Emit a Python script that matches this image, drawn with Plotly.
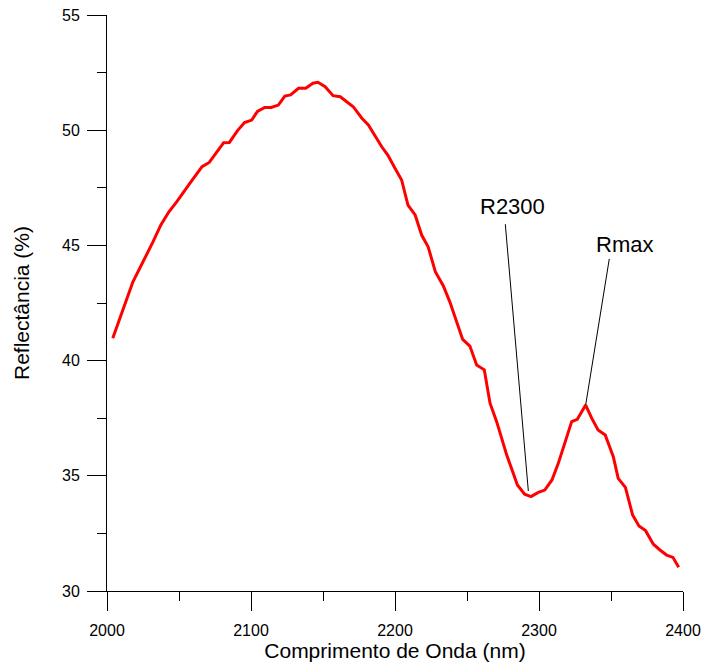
import plotly.graph_objects as go

# Spectrum data (wavelength in nm, reflectance in %)
wavelength = [2004, 2018, 2032, 2037.5, 2043, 2048.5, 2057, 2066, 2071, 2081, 2085,
              2090.5, 2095.5, 2100.5, 2104.5, 2109.5, 2114, 2119, 2123.5, 2127.5, 2133,
              2138, 2143, 2146.5, 2151.5, 2157, 2162, 2171, 2177, 2181.5, 2190.8, 2195,
              2200, 2204.6, 2209, 2214, 2218.5, 2223, 2228, 2233.5, 2238, 2247, 2252,
              2256.7, 2262, 2266, 2270.6, 2277.6, 2285, 2290, 2294.5, 2299.5, 2304, 2309,
              2313.4, 2318, 2322.7, 2326.6, 2332.4, 2336.6, 2341, 2346, 2351.6, 2355,
              2360, 2365, 2369.4, 2374, 2379.4, 2384, 2388.6, 2393, 2397]
reflectance = [40.97, 43.42, 45.16, 45.9, 46.46, 46.9, 47.65, 48.42, 48.6, 49.46, 49.47,
               49.97, 50.33, 50.44, 50.82, 50.99, 50.99, 51.09, 51.48, 51.53, 51.82,
               51.82, 52.04, 52.08, 51.89, 51.5, 51.45, 51.02, 50.52, 50.23, 49.28, 48.92,
               48.35, 47.84, 46.75, 46.32, 45.45, 44.94, 43.86, 43.25, 42.56, 40.92, 40.63,
               39.81, 39.6, 38.15, 37.35, 35.9, 34.6, 34.2, 34.1, 34.28, 34.38, 34.82,
               35.54, 36.41, 37.35, 37.45, 38.07, 37.5, 36.99, 36.77, 35.83, 34.89,
               34.5, 33.3, 32.82, 32.62, 32.03, 31.78, 31.56, 31.46, 31.03]

# Annotation labels and leader lines
label_text = ["R2300", "Rmax"]
label_x = [2281.3, 2359.7]
label_y = [46.71, 45.06]
leader_x0 = [2276.6, 2348.8]
leader_y0 = [45.92, 44.41]
leader_x1 = [2292.6, 2332.4]
leader_y1 = [34.34, 38.07]

x_ticks = [2000, 2100, 2200, 2300, 2400]
y_ticks = [30, 35, 40, 45, 50, 55]

FONT = "Arial, 'Liberation Sans', sans-serif"

fig = go.Figure()
fig.add_trace(go.Scatter(x=wavelength, y=reflectance, mode="lines",
                         line=dict(color="#ff0000", width=3), showlegend=False,
                         hoverinfo="skip"))
for i in range(len(label_text)):
    fig.add_trace(go.Scatter(x=[leader_x0[i], leader_x1[i]], y=[leader_y0[i], leader_y1[i]],
                             mode="lines", line=dict(color="black", width=1),
                             showlegend=False, hoverinfo="skip"))
    fig.add_annotation(x=label_x[i], y=label_y[i], text=label_text[i], showarrow=False,
                       font=dict(family=FONT, size=22, color="black"),
                       xanchor="center", yanchor="middle")

fig.update_layout(
    width=704, height=666,
    margin=dict(l=107, r=21, t=15, b=75),
    paper_bgcolor="white", plot_bgcolor="white",
    font=dict(family=FONT, color="black"),
    showlegend=False,
)
fig.update_xaxes(
    range=[2000, 2400], tickvals=x_ticks, showgrid=False, zeroline=False,
    showline=True, linecolor="black", linewidth=1, automargin=False,
    ticks="outside", ticklen=19, tickwidth=1, tickcolor="black",
    minor=dict(ticks="outside", ticklen=9, dtick=50, tickcolor="black", tickwidth=1),
    tickfont=dict(size=16, family=FONT), ticklabelstandoff=6,
    title=dict(text="Comprimento de Onda (nm)", font=dict(size=21, family=FONT), standoff=4),
)
fig.update_yaxes(
    range=[30, 55], tickvals=y_ticks, showgrid=False, zeroline=False,
    showline=True, linecolor="black", linewidth=1, automargin=False,
    ticks="outside", ticklen=19, tickwidth=1, tickcolor="black",
    minor=dict(ticks="outside", ticklen=9, dtick=2.5, tickcolor="black", tickwidth=1),
    tickfont=dict(size=16, family=FONT), ticklabelstandoff=4,
    title=dict(text="Reflectância (%)", font=dict(size=21, family=FONT), standoff=26),
)

fig.write_html("out.html")
